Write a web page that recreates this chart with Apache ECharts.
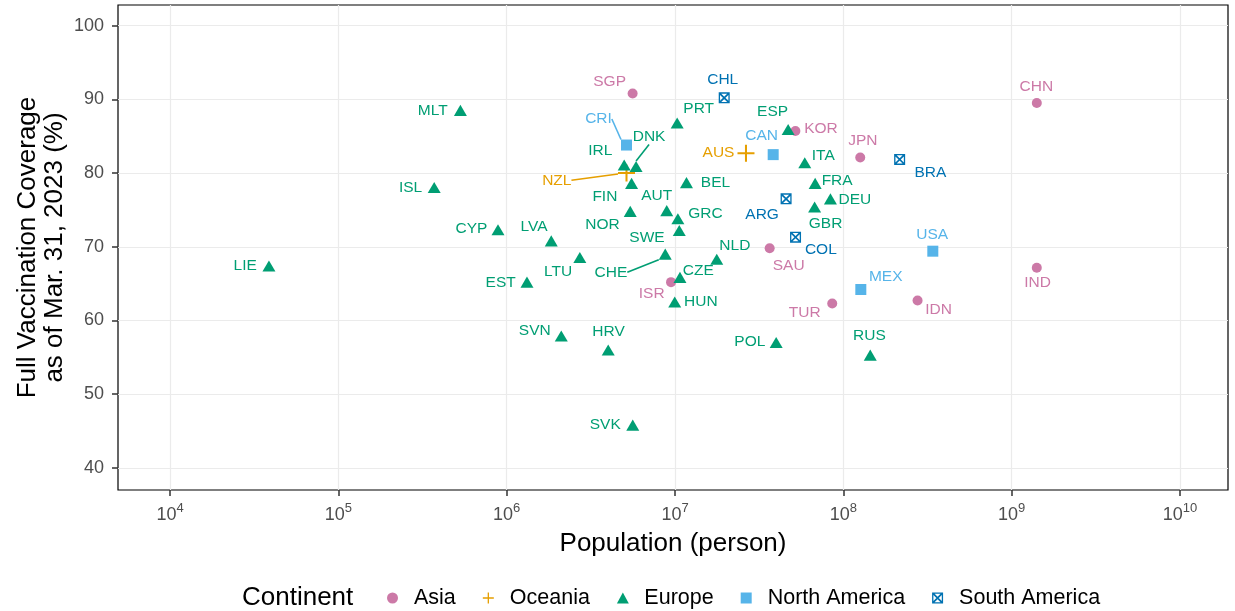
<!DOCTYPE html>
<html>
<head>
<meta charset="utf-8">
<script src="https://cdn.jsdelivr.net/npm/echarts@6/dist/echarts.min.js"></script>
<style>
  html, body { margin: 0; padding: 0; background: #ffffff; }
  #chart { width: 1235px; height: 611px; }
</style>
</head>
<body>
<div id="chart"></div>
<script>
// Continents, in legend order
const continents = ['Asia', 'Oceania', 'Europe', 'North America', 'South America'];

// Asia
const asiaCodes      = ['SGP', 'KOR', 'JPN', 'CHN', 'IND', 'IDN', 'TUR', 'SAU', 'ISR'];
const asiaPopulation = [5.6e6, 51.9e6, 126e6, 1.41e9, 1.41e9, 276e6, 85.9e6, 36.5e6, 9.47e6];
const asiaCoverage   = [90.8, 85.7, 82.1, 89.5, 67.15, 62.7, 62.3, 69.8, 65.2];

// Oceania
const oceaniaCodes      = ['AUS', 'NZL'];
const oceaniaPopulation = [26.4e6, 5.15e6];
const oceaniaCoverage   = [82.7, 80.0];

// Europe
const europeCodes = ['MLT', 'ISL', 'PRT', 'IRL', 'DNK', 'FIN', 'BEL', 'AUT', 'NOR', 'GRC',
                     'SWE', 'CYP', 'LVA', 'ESP', 'ITA', 'FRA', 'DEU', 'GBR', 'NLD', 'CZE',
                     'CHE', 'LTU', 'EST', 'HUN', 'SVN', 'HRV', 'POL', 'RUS', 'SVK', 'LIE'];
const europePopulation = [531e3, 371e3, 10.3e6, 4.99e6, 5.87e6, 5.52e6, 11.7e6, 8.93e6, 5.42e6, 10.4e6,
                          10.6e6, 888e3, 1.84e6, 47.0e6, 59.0e6, 68.0e6, 83.8e6, 67.5e6, 17.7e6, 10.7e6,
                          8.75e6, 2.72e6, 1.32e6, 9.96e6, 2.11e6, 4.01e6, 39.9e6, 144.5e6, 5.61e6, 38.7e3];
const europeCoverage = [88.5, 78.05, 86.8, 81.1, 80.9, 78.6, 78.7, 74.9, 74.8, 73.8,
                        72.2, 72.3, 70.8, 85.9, 81.4, 78.6, 76.5, 75.4, 68.3, 65.85,
                        69.0, 68.55, 65.2, 62.5, 57.9, 56.0, 57.0, 55.3, 45.8, 67.4];

// North America
const northAmericaCodes      = ['CRI', 'CAN', 'USA', 'MEX'];
const northAmericaPopulation = [5.15e6, 38.3e6, 340e6, 127e6];
const northAmericaCoverage   = [83.8, 82.5, 69.4, 64.2];

// South America
const southAmericaCodes      = ['CHL', 'BRA', 'ARG', 'COL'];
const southAmericaPopulation = [19.6e6, 216e6, 45.7e6, 52e6];
const southAmericaCoverage   = [90.2, 81.85, 76.5, 71.3];

// Axis ticks
const xTicks = [1e4, 1e5, 1e6, 1e7, 1e8, 1e9, 1e10];
const yTicks = [40, 50, 60, 70, 80, 90, 100];

// ---- styling / layout ----
const palette = {
  'Asia': '#CC79A7',
  'Oceania': '#E69F00',
  'Europe': '#009E73',
  'North America': '#56B4E9',
  'South America': '#0072B2'
};
const PLUS = 'path://M44,0H56V44H100V56H56V100H44V56H0V44H44Z';
const TRIANGLE = 'path://M6.5,0L13,12H0Z';
const SQUARE = 'path://M0,0H10V10H0Z';
const BOX_X = 'path://M0,0H100V100H0Z M12,12V88H88V12Z ' +
              'M12,12L23,12L88,77L88,88L77,88L12,23Z ' +
              'M88,12L88,23L23,88L12,88L12,77L77,12Z';
const symbols = {
  'Asia': ['circle', 10],
  'Oceania': [PLUS, 17],
  'Europe': [TRIANGLE, [13, 12]],
  'North America': [SQUARE, 11],
  'South America': [BOX_X, 11]
};
// label placement relative to each marker (px)
const labelNudge = {
  SGP: [-23, -12], CHL: [-1.5, -18], MLT: [-27.7, 0], PRT: [21.5, -14.4], CRI: [-28, -26],
  DNK: [13, -30], IRL: [-24, -14.5], AUS: [-27.5, 0], CAN: [-11.5, -18.5], ESP: [-15.6, -17.7],
  NZL: [-69.7, 7.2], ISL: [-23.6, 0], BEL: [29, 0], FIN: [-26.7, 12.9], AUT: [-10, -15.4],
  GRC: [27.6, -4.7], ARG: [-24, 16.3], CYP: [-26.6, -1.5], LVA: [-17.2, -14.3], NOR: [-27.7, 13.8],
  SWE: [-32.3, 7.1], NLD: [18.1, -13.7], LTU: [-21.8, 14], CHE: [-54.3, 18.2], CZE: [18.3, -7.1],
  EST: [-26.3, 0.5], ISR: [-19.3, 11.7], HUN: [26.1, -0.5], SAU: [19, 17.2], COL: [25.3, 12.2],
  TUR: [-27.5, 9], SVN: [-26.5, -5.4], HRV: [0.3, -18.5], POL: [-26.3, -0.4], RUS: [-0.9, -19],
  SVK: [-27.5, -0.8], GBR: [11, 16.4], KOR: [25.6, -2], JPN: [2.6, -16.4], ITA: [18.5, -7.2],
  FRA: [22, -2.8], DEU: [24.5, 0.4], BRA: [30.7, 13.3], USA: [-0.6, -16], MEX: [24.9, -13],
  CHN: [-0.5, -16.8], IND: [0.8, 14.5], IDN: [21, 9], LIE: [-23.8, -0.5]
};
// labels that sit far from their marker get a leader line
const leaderLines = ['CRI', 'DNK', 'NZL', 'CHE'];

const groups = [
  [asiaCodes, asiaPopulation, asiaCoverage],
  [oceaniaCodes, oceaniaPopulation, oceaniaCoverage],
  [europeCodes, europePopulation, europeCoverage],
  [northAmericaCodes, northAmericaPopulation, northAmericaCoverage],
  [southAmericaCodes, southAmericaPopulation, southAmericaCoverage]
];

const FONT = '"Liberation Sans", Arial, Helvetica, sans-serif';

const series = continents.map((name, si) => {
  const [codes, pop, cov] = groups[si];
  const color = palette[name];
  return {
    name: name,
    type: 'scatter',
    symbol: symbols[name][0],
    symbolSize: symbols[name][1],
    symbolKeepAspect: true,
    itemStyle: { color: color, opacity: 1 },
    label: {
      show: true,
      position: 'inside',
      formatter: '{b}',
      color: color,
      fontFamily: FONT,
      fontSize: 15.5,
      align: 'center',
      verticalAlign: 'middle'
    },
    labelLine: { show: false, lineStyle: { color: color, width: 1.6 } },
    labelLayout: function (p) {
      const d = labelNudge[codes[p.dataIndex]] || [0, 0];
      return { dx: d[0], dy: d[1] };
    },
    emphasis: { disabled: true },
    data: codes.map((c, i) => {
      const item = { name: c, value: [pop[i], cov[i]] };
      if (leaderLines.indexOf(c) >= 0) {
        item.labelLine = { show: true, lineStyle: { color: color, width: 1.6 } };
      }
      return item;
    })
  };
});

const chart = echarts.init(document.getElementById('chart'), null, { renderer: 'canvas' });
chart.setOption({
  animation: false,
  backgroundColor: '#ffffff',
  textStyle: { fontFamily: FONT },
  grid: {
    left: 118, right: 7, top: 5, bottom: 121,
    show: true, borderColor: '#000000', borderWidth: 1.2, backgroundColor: 'transparent'
  },
  xAxis: {
    type: 'log',
    logBase: 10,
    min: 4909,
    max: 1.928e10,
    name: 'Population (person)',
    nameLocation: 'middle',
    nameGap: 41,
    nameMoveOverlap: false,
    nameTextStyle: { fontSize: 26, color: '#000000', fontFamily: FONT },
    axisLine: { show: false },
    axisTick: { show: true, length: 6, customValues: xTicks, lineStyle: { color: '#333333', width: 1.5 } },
    axisLabel: {
      customValues: xTicks,
      margin: 12,
      color: '#4D4D4D',
      fontFamily: FONT,
      formatter: function (v) { return '{b|10}{s|' + Math.round(Math.log10(v)) + '}'; },
      rich: {
        b: { fontSize: 18, lineHeight: 22, color: '#4D4D4D', verticalAlign: 'bottom', fontFamily: FONT },
        s: { fontSize: 13, lineHeight: 13, color: '#4D4D4D', verticalAlign: 'top', fontFamily: FONT }
      }
    },
    splitLine: { show: true, lineStyle: { color: '#EBEBEB', width: 1.2 } },
    minorSplitLine: { show: false }
  },
  yAxis: {
    type: 'value',
    min: 37.0,
    max: 102.8,
    name: 'Full Vaccination Coverage\nas of Mar. 31, 2023 (%)',
    nameLocation: 'middle',
    nameGap: 50,
    nameMoveOverlap: false,
    nameRotate: 90,
    nameTextStyle: { fontSize: 26, lineHeight: 27, color: '#000000', fontFamily: FONT },
    axisLine: { show: false },
    axisTick: { show: true, length: 6, customValues: yTicks, lineStyle: { color: '#333333', width: 1.5 } },
    axisLabel: { customValues: yTicks, margin: 14, color: '#4D4D4D', fontSize: 18, fontFamily: FONT },
    splitLine: { show: true, lineStyle: { color: '#EBEBEB', width: 1.2 } }
  },
  legend: {
    data: continents,
    left: 382,
    top: 582,
    orient: 'horizontal',
    itemWidth: 33,
    itemHeight: 11,
    itemGap: 27,
    symbolKeepAspect: true,
    selectedMode: false,
    textStyle: { fontSize: 21.5, color: '#000000', fontFamily: FONT }
  },
  graphic: [{
    type: 'text',
    left: 242,
    top: 585,
    style: { text: 'Continent', fontSize: 26, fill: '#000000', fontFamily: FONT }
  }],
  series: series
});
</script>
</body>
</html>
